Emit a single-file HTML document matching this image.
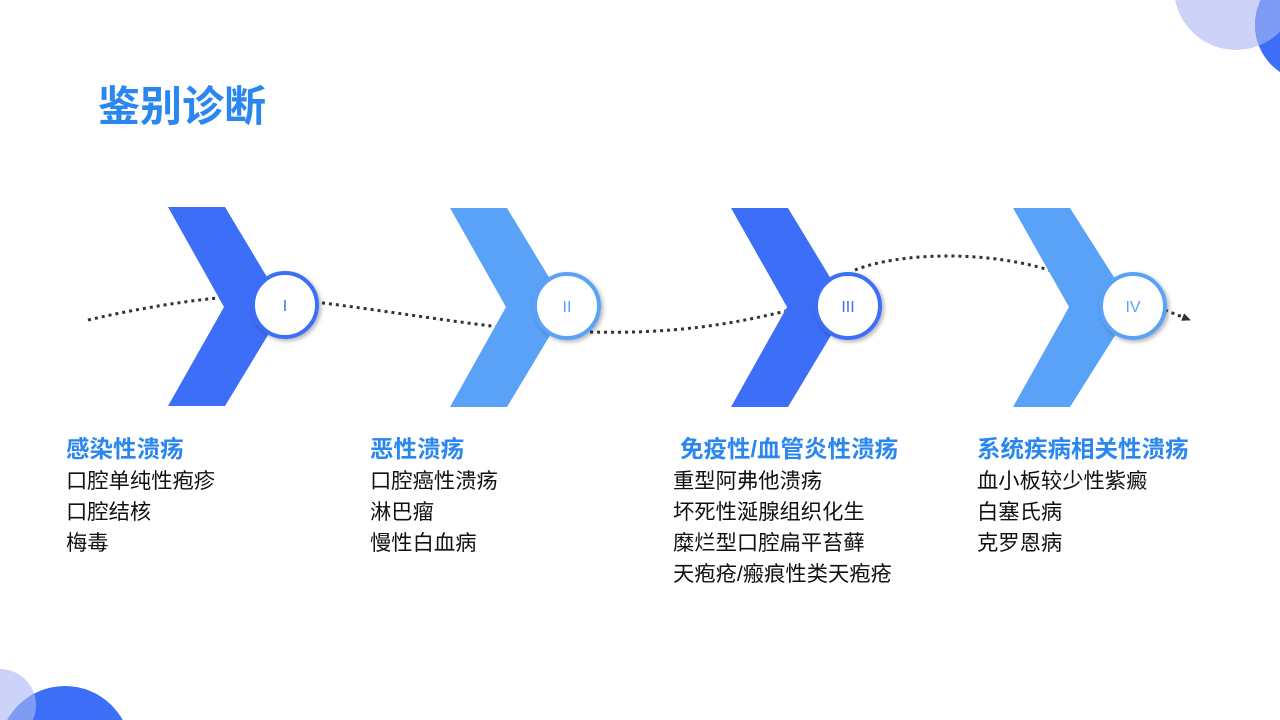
<!DOCTYPE html>
<html style="overflow:hidden"><head><meta charset="utf-8"><style>
html,body{margin:0;width:1280px;height:720px;overflow:hidden}
body{background:#fff;position:relative;font-family:"Liberation Sans","Noto Sans CJK SC",sans-serif}
.t{position:absolute;white-space:nowrap}
.title{left:98px;top:81px;font-size:42px;font-weight:bold;color:#2b87f0;line-height:52px}
.col{position:absolute;top:433px;font-size:21.3px;line-height:31px;color:#111;white-space:nowrap}
.col b{display:block;color:#2b87f0;font-size:23.5px;line-height:32px;margin-bottom:1px}
</style></head><body>
<svg width="1280" height="720" style="position:absolute;left:0;top:0;display:block">
<defs><filter id="sh" x="-30%" y="-30%" width="160%" height="160%"><feDropShadow dx="2" dy="2" stdDeviation="2" flood-color="#000" flood-opacity="0.3"/></filter>
<marker id="ar" markerUnits="userSpaceOnUse" markerWidth="10" markerHeight="10" refX="8" refY="5" orient="auto"><path d="M0,1 L9,5 L0,9 Z" fill="#333"/></marker></defs>
<circle cx="1236" cy="-12" r="62" fill="#cdd3f8"/>
<circle cx="1312" cy="25" r="57" fill="#3d6ef7"/>
<clipPath id="c1"><circle cx="1236" cy="-12" r="62"/></clipPath>
<circle cx="1312" cy="25" r="57" fill="#7f9cf5" clip-path="url(#c1)"/>
<circle cx="0" cy="705" r="36" fill="#cdd3f8"/>
<circle cx="65" cy="752" r="66" fill="#3d6ef7"/>
<clipPath id="c2"><circle cx="0" cy="705" r="36"/></clipPath>
<circle cx="65" cy="752" r="66" fill="#7f9cf5" clip-path="url(#c2)"/>
<path d="M88,320 C140,308 190,300 230,297 M315,302 C380,310 440,320 500,327 M590,332 C670,334 730,325 790,310 M855,270 C900,252 990,250 1055,272" fill="none" stroke="#333" stroke-width="3" stroke-dasharray="3,4"/>
<path d="M1165,310 L1190,320" fill="none" stroke="#333" stroke-width="3" stroke-dasharray="3,4" marker-end="url(#ar)"/>
<polygon points="168,207 225,207 285,307 225,406 168,406 224,307" fill="#3d6ef7"/>
<circle cx="285" cy="305" r="32" fill="#fff" stroke="#3d6ef7" stroke-width="4" filter="url(#sh)"/>
<polygon points="450,208 507,208 567,307 507,407 450,407 506,307" fill="#5aa2f7"/>
<circle cx="567" cy="306" r="32" fill="#fff" stroke="#5aa2f7" stroke-width="4" filter="url(#sh)"/>
<polygon points="731,208 788,208 848,307 788,407 731,407 787,307" fill="#3d6ef7"/>
<circle cx="848" cy="306" r="32" fill="#fff" stroke="#3d6ef7" stroke-width="4" filter="url(#sh)"/>
<polygon points="1013,208 1070,208 1133,307 1070,407 1013,407 1069,307" fill="#5aa2f7"/>
<circle cx="1133" cy="306" r="32" fill="#fff" stroke="#5aa2f7" stroke-width="4" filter="url(#sh)"/>
<g font-family="Liberation Sans,sans-serif" font-size="16" text-anchor="middle">
<text x="285" y="311" fill="#3d6ef7">I</text>
<text x="567" y="312" fill="#5aa2f7">II</text>
<text x="848" y="312" fill="#3d6ef7">III</text>
<text x="1133" y="312" fill="#5aa2f7">IV</text>
</g>
</svg>
<div class="t title">鉴别诊断</div>
<div class="col" style="left:66px"><b>感染性溃疡</b>口腔单纯性疱疹<br>口腔结核<br>梅毒</div>
<div class="col" style="left:370px"><b>恶性溃疡</b>口腔癌性溃疡<br>淋巴瘤<br>慢性白血病</div>
<div class="col" style="left:673px"><b style="margin-left:7px">免疫性/血管炎性溃疡</b>重型阿弗他溃疡<br>坏死性涎腺组织化生<br>糜烂型口腔扁平苔藓<br>天疱疮/瘢痕性类天疱疮</div>
<div class="col" style="left:977px"><b>系统疾病相关性溃疡</b>血小板较少性紫癜<br>白塞氏病<br>克罗恩病</div>
</body></html>
